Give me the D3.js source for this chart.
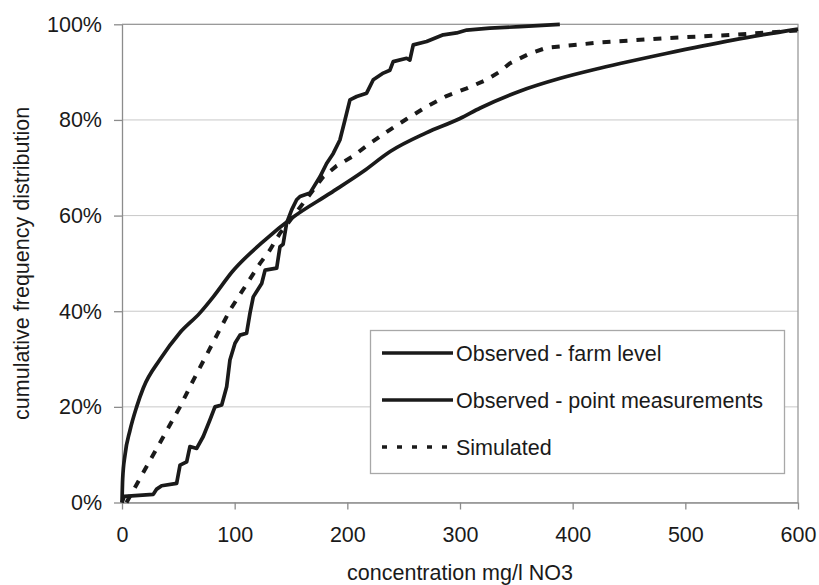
<!DOCTYPE html>
<html>
<head>
	<meta charset="utf-8">
	<title></title>
  <style type="text/css">
    body {margin: 0; background: #fff}
    text {font-family: "Liberation Sans", Arial, sans-serif; fill: #1a1a1a}
    .gridLine {stroke: #c8c8c8; stroke-width: 1px}
    .serieLine {fill: none; stroke: #1a1a1a; stroke-width: 3.7px; stroke-linejoin: round}
  </style>
</head>
<body>
<script src="https://d3js.org/d3.v7.min.js"></script>

<div id="my_dataviz"></div>
<script>
// x values in mg/l NO3, y values as cumulative fraction
var farmX = [0, 0.6, 2.7, 7, 13, 19, 34, 51, 69, 81, 98, 125, 152, 185, 214, 238, 270, 300, 318, 353, 389, 424, 483, 542, 600];
var farmY = [0, 0.05, 0.10, 0.15, 0.20, 0.24, 0.30, 0.354, 0.396, 0.43, 0.483, 0.545, 0.597, 0.647, 0.692, 0.734, 0.773, 0.803, 0.825, 0.86, 0.887, 0.908, 0.939, 0.967, 0.99];

var pointX = [0, 2, 27.8, 30.8, 35.2, 48.5, 51.5, 57.4, 60.3, 66.3, 72.1, 78.1, 82.5, 88.5, 92.9, 95.8, 100.3, 104.7, 110.6, 113.6, 116.5, 124, 127, 137.3, 140.2, 143, 146.1, 150.6, 155, 158, 166.8, 175.7, 181.6, 187.5, 193.4, 197.9, 202.3, 208.3, 217.1, 223, 231.9, 237.8, 240.7, 252.6, 255.5, 258.5, 270.4, 285.1, 297, 306, 326.5, 353, 388.6];
var pointY = [0, 0.013, 0.017, 0.028, 0.035, 0.04, 0.078, 0.085, 0.117, 0.113, 0.138, 0.173, 0.20, 0.204, 0.242, 0.298, 0.333, 0.35, 0.354, 0.396, 0.43, 0.458, 0.486, 0.49, 0.535, 0.54, 0.584, 0.612, 0.633, 0.64, 0.647, 0.681, 0.709, 0.73, 0.758, 0.80, 0.842, 0.849, 0.856, 0.884, 0.898, 0.904, 0.922, 0.929, 0.925, 0.957, 0.964, 0.978, 0.982, 0.988, 0.992, 0.995, 1.0];

var simX = [4, 51.5, 61.8, 96, 122.5, 131.3, 140.2, 146, 178.6, 190.5, 205, 220, 235, 252.6, 270.4, 288, 306, 323.6, 335.4, 344, 362, 377, 424, 483, 542, 600];
var simY = [0, 0.20, 0.249, 0.403, 0.50, 0.528, 0.563, 0.58, 0.681, 0.704, 0.724, 0.751, 0.775, 0.802, 0.828, 0.85, 0.866, 0.884, 0.901, 0.918, 0.939, 0.951, 0.962, 0.971, 0.978, 0.987];

var xTicks = [0, 100, 200, 300, 400, 500, 600];
var yTicks = [0, 0.2, 0.4, 0.6, 0.8, 1.0];
var legendNames = ["Observed - farm level", "Observed - point measurements", "Simulated"];

var margin = {top: 24.3, right: 21, bottom: 82.5, left: 122},
    width = 819 - margin.left - margin.right,
    height = 585 - margin.top - margin.bottom;

var svg = d3.select("#my_dataviz")
  .append("svg")
    .attr("width", 819)
    .attr("height", 585);
var svgPlotArea = svg.append("g")
    .attr("transform", "translate(" + margin.left + "," + margin.top + ")");

var x = d3.scaleLinear()
      .domain([0, 600])
      .range([0, width]);
var y = d3.scaleLinear()
      .domain([0, 1])
      .range([height, 0]);

// grid lines
svgPlotArea.append("g")
  .selectAll("gridline")
  .data(yTicks)
  .enter()
  .append("line")
    .attr("class", "gridLine")
    .attr("x1", 0)
    .attr("x2", width)
    .attr("y1", function(d) { return y(d) })
    .attr("y2", function(d) { return y(d) });

// plot border (top + right)
svgPlotArea.append("path")
  .attr("fill", "none")
  .attr("stroke", "#9a9a9a")
  .attr("stroke-width", 1.3)
  .attr("d", "M0," + y(1) + "H" + x(600) + "V" + y(0));

// axes
var yAxis = svgPlotArea.append("g")
  .call(d3.axisLeft(y).tickValues(yTicks).tickFormat(d3.format(".0%"))
    .tickSize(8).tickSizeOuter(0).tickPadding(12));
var xAxis = svgPlotArea.append("g")
  .attr("transform", "translate(0," + height + ")")
  .call(d3.axisBottom(x).tickValues(xTicks)
    .tickSize(7).tickSizeOuter(0).tickPadding(17));
[xAxis, yAxis].forEach(function(a) {
  a.selectAll("path, line").attr("stroke", "#8c8c8c").attr("stroke-width", 1.3);
  a.selectAll("text")
    .style("font-family", "'Liberation Sans', Arial, sans-serif")
    .style("font-size", "21.5px")
    .attr("fill", "#1a1a1a");
});

// series
function drawSerie(xs, ys, curve)
{
  var data = xs.map(function(d, i) { return [d, ys[i]] });
  return svgPlotArea.append("path")
    .datum(data)
    .attr("class", "serieLine")
    .attr("d", d3.line()
      .curve(curve)
      .x(function(d) { return x(d[0]) })
      .y(function(d) { return y(d[1]) }));
};
drawSerie(farmX, farmY, d3.curveMonotoneX);
drawSerie(simX, simY, d3.curveLinear)
  .attr("stroke-dasharray", "8,9")
  .style("stroke-width", "4px");
drawSerie(pointX, pointY, d3.curveLinear);

// legend
var legend = svg.append("g");
legend.append("rect")
  .attr("x", 370.5)
  .attr("y", 330.5)
  .attr("width", 414)
  .attr("height", 143)
  .attr("fill", "#fff")
  .attr("stroke", "#a8a8a8")
  .attr("stroke-width", 1.3);
legendNames.forEach(function(name, i) {
  var ly = 353 + i * 47;
  legend.append("line")
    .attr("class", "serieLine")
    .attr("x1", 382)
    .attr("x2", 453)
    .attr("y1", ly)
    .attr("y2", ly)
    .attr("stroke-dasharray", i == 2 ? "5,10" : null);
  legend.append("text")
    .attr("x", 456)
    .attr("y", ly)
    .attr("dy", ".35em")
    .style("font-size", "21.5px")
    .text(name);
});

// axis titles
svg.append("text")
  .attr("x", margin.left + width / 2)
  .attr("y", 580)
  .attr("text-anchor", "middle")
  .style("font-size", "21.5px")
  .text("concentration mg/l NO3");
svg.append("text")
  .attr("transform", "translate(29," + (margin.top + height / 2) + ") rotate(-90)")
  .attr("text-anchor", "middle")
  .style("font-size", "21.5px")
  .text("cumulative frequency distribution");
</script>

</body>
</html>
